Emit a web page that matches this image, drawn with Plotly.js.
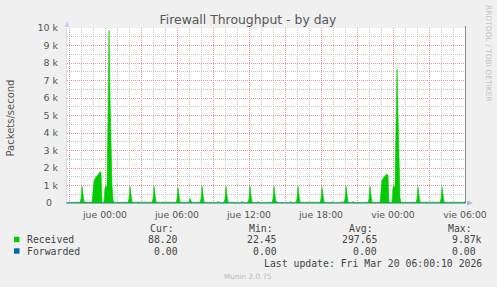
<!DOCTYPE html>
<html><head><meta charset="utf-8">
<script src="https://cdn.plot.ly/plotly-3.0.1.min.js"></script>
<style>html,body{margin:0;padding:0;background:#f0f0f0;}#chart{width:497px;height:287px;}</style>
</head><body><div id="chart"></div>
<script>
// ---- data ----
const received_t = [
 '2026-03-18 20:50','2026-03-18 21:55','2026-03-18 22:00','2026-03-18 22:05','2026-03-18 22:10','2026-03-18 22:15',
 '2026-03-18 22:55','2026-03-18 23:00','2026-03-18 23:05','2026-03-18 23:10','2026-03-18 23:15','2026-03-18 23:20',
 '2026-03-18 23:25','2026-03-18 23:30','2026-03-18 23:35','2026-03-18 23:40','2026-03-18 23:45','2026-03-18 23:55',
 '2026-03-19 00:00','2026-03-19 00:05','2026-03-19 00:10','2026-03-19 00:15','2026-03-19 00:20','2026-03-19 00:25',
 '2026-03-19 00:30','2026-03-19 00:35','2026-03-19 00:40','2026-03-19 00:45',
 '2026-03-19 01:55','2026-03-19 02:00','2026-03-19 02:05','2026-03-19 02:10','2026-03-19 02:15',
 '2026-03-19 03:55','2026-03-19 04:00','2026-03-19 04:05','2026-03-19 04:10','2026-03-19 04:15',
 '2026-03-19 05:55','2026-03-19 06:00','2026-03-19 06:05','2026-03-19 06:10','2026-03-19 06:15',
 '2026-03-19 07:00','2026-03-19 07:05','2026-03-19 07:10','2026-03-19 07:15',
 '2026-03-19 07:55','2026-03-19 08:00','2026-03-19 08:05','2026-03-19 08:10','2026-03-19 08:15',
 '2026-03-19 09:20','2026-03-19 09:25','2026-03-19 09:30',
 '2026-03-19 09:55','2026-03-19 10:00','2026-03-19 10:05','2026-03-19 10:10','2026-03-19 10:15',
 '2026-03-19 11:20','2026-03-19 11:25','2026-03-19 11:30',
 '2026-03-19 11:55','2026-03-19 12:00','2026-03-19 12:05','2026-03-19 12:10','2026-03-19 12:15',
 '2026-03-19 12:40','2026-03-19 12:45','2026-03-19 12:50',
 '2026-03-19 13:55','2026-03-19 14:00','2026-03-19 14:05','2026-03-19 14:10','2026-03-19 14:15','2026-03-19 14:20','2026-03-19 14:25',
 '2026-03-19 15:25','2026-03-19 15:30','2026-03-19 15:35',
 '2026-03-19 15:55','2026-03-19 16:00','2026-03-19 16:05','2026-03-19 16:10','2026-03-19 16:15',
 '2026-03-19 17:55','2026-03-19 18:00','2026-03-19 18:05','2026-03-19 18:10','2026-03-19 18:15',
 '2026-03-19 18:50','2026-03-19 18:55','2026-03-19 19:00',
 '2026-03-19 19:40','2026-03-19 19:45','2026-03-19 19:50',
 '2026-03-19 19:55','2026-03-19 20:00','2026-03-19 20:05','2026-03-19 20:10','2026-03-19 20:15',
 '2026-03-19 20:35','2026-03-19 20:40','2026-03-19 20:45',
 '2026-03-19 21:55','2026-03-19 22:00','2026-03-19 22:05','2026-03-19 22:10','2026-03-19 22:15',
 '2026-03-19 22:55','2026-03-19 23:00','2026-03-19 23:05','2026-03-19 23:10','2026-03-19 23:15','2026-03-19 23:20',
 '2026-03-19 23:25','2026-03-19 23:30','2026-03-19 23:35','2026-03-19 23:40','2026-03-19 23:55',
 '2026-03-20 00:00','2026-03-20 00:05','2026-03-20 00:10','2026-03-20 00:15','2026-03-20 00:20','2026-03-20 00:25',
 '2026-03-20 00:30','2026-03-20 00:35','2026-03-20 00:40',
 '2026-03-20 01:55','2026-03-20 02:00','2026-03-20 02:05','2026-03-20 02:10','2026-03-20 02:15',
 '2026-03-20 03:55','2026-03-20 04:00','2026-03-20 04:05','2026-03-20 04:10','2026-03-20 04:15',
 '2026-03-20 05:55','2026-03-20 06:00'
];
const received_v = [
 40,40,250,950,500,60,
 40,1000,1250,1400,1500,1550,
 1600,1700,1780,1750,40,40,
 900,900,1000,5000,9870,6000,
 2500,1000,200,40,
 40,250,930,450,50,
 40,250,930,450,50,
 40,250,870,450,50,
 40,260,120,40,
 40,250,950,450,50,
 30,100,30,
 40,250,950,450,50,
 30,100,30,
 40,250,950,450,50,
 30,90,30,
 40,250,950,450,60,90,30,
 30,90,30,
 40,250,950,450,50,
 40,250,900,450,50,
 30,90,30,
 30,90,30,
 40,250,950,450,50,
 30,90,30,
 40,250,950,450,50,
 40,950,1300,1400,1500,1550,
 1620,1650,1600,40,40,
 900,900,1000,4000,7650,5000,
 1500,300,40,
 40,250,900,450,50,
 40,250,900,450,50,
 40,88.2
];
const forwarded_t = ['2026-03-18 20:50','2026-03-20 06:00'];
const forwarded_v = [0, 0];

const x_range = ['2026-03-18 20:50','2026-03-20 06:05'];
const x_tickvals = ['2026-03-18 21:00','2026-03-19 00:00','2026-03-19 03:00','2026-03-19 06:00','2026-03-19 09:00',
 '2026-03-19 12:00','2026-03-19 15:00','2026-03-19 18:00','2026-03-19 21:00','2026-03-20 00:00','2026-03-20 03:00','2026-03-20 06:00'];
const x_ticktext = ['','jue 00:00','','jue 06:00','','jue 12:00','','jue 18:00','','vie 00:00','','vie 06:00'];
const y_tickvals = [0,1000,2000,3000,4000,5000,6000,7000,8000,9000,10000];
const y_ticktext = ['0\u00a0\u00a0','1 k','2 k','3 k','4 k','5 k','6 k','7 k','8 k','9 k','10 k'];

const legend_names = ['Received','Forwarded'];
const legend_colors = ['#00cc00','#0066b3'];
const col_heads = ['Cur:','Min:','Avg:','Max:'];
const stats_received = ['88.20','22.45','297.65','9.87k'];
const stats_forwarded = ['0.00','0.00','0.00','0.00'];

// ---- layout helpers (pixel -> paper) ----
const L=67, R=466, T=28, B=203;
const px = x => (x-L)/(R-L);
const py = y => (B-y)/(B-T);

const SANS='DejaVu Sans, sans-serif', MONO='DejaVu Sans Mono, monospace';
const ann = [];
function txt(text,x,y,xa,opts){ann.push(Object.assign({text:text,xref:'paper',yref:'paper',x:px(x),y:py(y),xanchor:xa,yanchor:'middle',showarrow:false,borderpad:0,
  font:{family:MONO,size:9.8,color:'#444'}},opts||{}));}

const colLeft=[149,248,348,447];
col_heads.forEach((h,i)=>txt(h,colLeft[i],228.5,'left'));
const rightRec=[179,278,378,483];
const rightFwd=[179,278,378,477];
txt(legend_names[0],26,239.5,'left');
txt(legend_names[1],26,251,'left');
stats_received.forEach((s,i)=>txt(s,rightRec[i],239.5,'right'));
stats_forwarded.forEach((s,i)=>txt(s,rightFwd[i],251,'right'));
txt('Last update: Fri Mar 20 06:00:10 2026',483,263.5,'right');
txt('Munin 2.0.75',248,276.5,'center',{font:{family:SANS,size:7.3,color:'#bbbbbb'}});
txt('Packets/second',10.5,118,'center',{textangle:-90,font:{family:SANS,size:10,color:'#555'}});
txt('RRDTOOL / TOBI OETIKER',489,53,'center',{textangle:90,font:{family:SANS,size:7.5,color:'#c4c4c4'}});

const shapes = [];
legend_colors.forEach((c,i)=>{
  const cy = i===0?239.5:251;
  shapes.push({type:'rect',xref:'paper',yref:'paper',x0:px(14),x1:px(19.5),y0:py(cy+2.7),y1:py(cy-2.7),fillcolor:c,line:{width:0}});
});
// right frame line
shapes.push({type:'line',xref:'paper',yref:'paper',x0:px(465.5),x1:px(465.5),y0:py(B),y1:py(26),line:{color:'#888',width:1}});
// axis arrows
shapes.push({type:'path',xref:'paper',yref:'paper',path:`M ${px(64.5)} ${py(27)} L ${px(69.5)} ${py(27)} L ${px(67)} ${py(21)} Z`,fillcolor:'#ccccff',line:{width:0}});
shapes.push({type:'path',xref:'paper',yref:'paper',path:`M ${px(467)} ${py(200.5)} L ${px(467)} ${py(205.5)} L ${px(473)} ${py(203)} Z`,fillcolor:'#aab4e8',line:{width:0}});

const traces = [
 {x:received_t,y:received_v,type:'scatter',mode:'lines',fill:'tozeroy',fillcolor:'#00cc00',line:{color:'#00cc00',width:0.6},name:legend_names[0],hoverinfo:'skip'},
 {x:forwarded_t,y:forwarded_v,type:'scatter',mode:'lines',line:{color:'#0066b3',width:1},opacity:0.35,name:legend_names[1],hoverinfo:'skip'}
];

const layout = {
  width:497,height:287,
  margin:{l:L,r:497-R,t:T,b:287-B,pad:0},
  paper_bgcolor:'#f0f0f0',plot_bgcolor:'#ffffff',
  showlegend:false,
  title:{text:'Firewall Throughput - by day',font:{family:SANS,size:12.4,color:'#555'},x:0.499,xanchor:'center',y:1-19.3/287,yanchor:'middle'},
  xaxis:{type:'date',range:x_range,tickmode:'array',tickvals:x_tickvals,ticktext:x_ticktext,
    showgrid:true,gridcolor:'#e49a9a',griddash:'1px,1px',gridwidth:1,
    minor:{tickmode:'linear',tick0:'2026-03-18 21:00',dtick:3600000,showgrid:true,gridcolor:'#c8c8c8',griddash:'1px,1px',ticks:''},
    showline:true,linecolor:'#9aa6d6',linewidth:1,zeroline:false,ticks:'',
    tickfont:{family:SANS,size:9.3,color:'#555'},ticklabelstandoff:3},
  yaxis:{range:[0,10000],tickmode:'array',tickvals:y_tickvals,ticktext:y_ticktext,
    showgrid:true,gridcolor:'#e49a9a',griddash:'1px,1px',gridwidth:1,
    minor:{tickmode:'linear',tick0:0,dtick:500,showgrid:true,gridcolor:'#c8c8c8',griddash:'1px,1px',ticks:''},
    showline:true,linecolor:'#d6d6f0',linewidth:1,zeroline:false,ticks:'',
    tickfont:{family:SANS,size:9.5,color:'#555'},ticklabelstandoff:6},
  annotations:ann,shapes:shapes
};
Plotly.newPlot('chart',traces,layout,{displayModeBar:false,staticPlot:true});
</script></body></html>
